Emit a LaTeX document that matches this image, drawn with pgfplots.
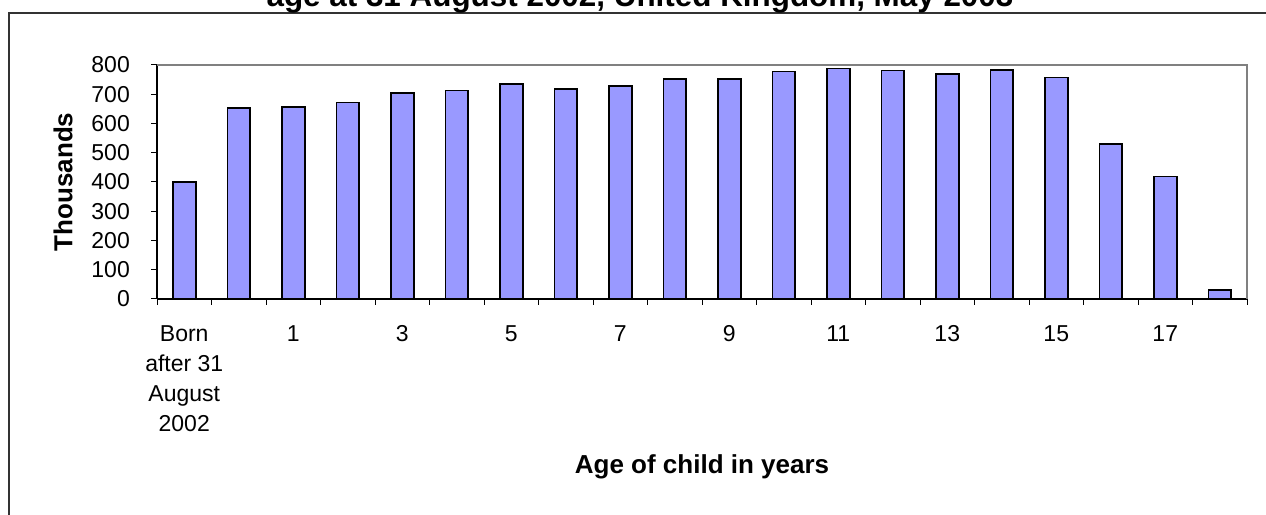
\documentclass[border=0pt]{standalone}
\usepackage{fontspec}
\setmainfont{Liberation Sans}
\usepackage{pgfplots}
\pgfplotsset{compat=1.18}
\definecolor{barfill}{HTML}{9999FF}
\begin{document}
\begin{tikzpicture}[x=1pt,y=1pt]
\useasboundingbox (0,0) rectangle (1266,514);
\fill[white] (0,0) rectangle (1266,514);
\draw[line width=1.4pt, black!80] (9,-20) rectangle (1300,501);
\node[anchor=base, font=\fontsize{31.4}{36}\bfseries\selectfont] at (640,507) {age at 31 August 2002, United Kingdom, May 2003};
\node[rotate=90, font=\fontsize{26}{30}\bfseries\selectfont] at (63,332) {Thousands};
\node[anchor=base, font=\fontsize{26}{30}\bfseries\selectfont] at (702,40) {Age of child in years};
\begin{axis}[
  at={(157pt,215pt)}, anchor=south west,
  scale only axis, width=1090pt, height=234pt,
  xmin=-0.5, xmax=19.5, ymin=0, ymax=800,
  axis x line*=bottom, axis y line*=left,
  axis line style={black, line width=1.3pt},
  tick align=outside,
  xtick={0,2,...,18},
  xticklabels={{Born\\after 31\\August\\2002},1,3,5,7,9,11,13,15,17},
  minor xtick={-0.5,0.5,...,19.5},
  major x tick style={draw=none},
  minor x tick style={black, line width=1pt},
  ytick={0,100,...,800},
  y tick style={black, line width=1pt},
  major tick length=6pt, minor tick length=6pt,
  /pgf/number format/assume math mode=true,
  ticklabel style={font=\fontsize{23}{30}\selectfont},
  xticklabel style={align=center, anchor=north, inner sep=0pt, yshift=-20pt},
  yticklabel style={anchor=east, inner sep=0pt, xshift=-21pt},
  clip=false,
]
\draw[gray, line width=1.6pt] (rel axis cs:0,1) -- (rel axis cs:1,1) -- (rel axis cs:1,0);
\addplot[ybar, bar width=22.7pt, fill=barfill, draw=black, line width=1.8pt] coordinates {
(0,400) (1,652) (2,656) (3,672) (4,704) (5,713) (6,735) (7,719) (8,728) (9,753)
(10,753) (11,778) (12,788) (13,781) (14,768) (15,782) (16,757) (17,529) (18,419) (19,31)
};
\end{axis}
\end{tikzpicture}
\end{document}
